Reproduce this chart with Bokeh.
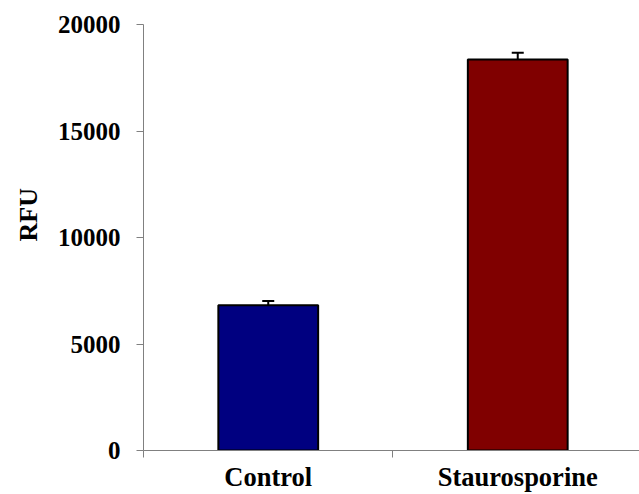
from bokeh.plotting import figure
from bokeh.models import Range1d, FixedTicker, Whisker, TeeHead, ColumnDataSource, Title
from bokeh.embed import file_html
from bokeh.resources import INLINE

categories = ["Control", "Staurosporine"]
rfu = [6820, 18360]
sem = [200, 310]
colors = ["#000080", "#800000"]
y_ticks = [0, 5000, 10000, 15000, 20000]
y_label = "RFU"

FONT = "Liberation Serif"
FS_Y = "25px"
FS_X = "26.5px"
AX = "#808080"

W, H = 639, 494
LEFT, TOP, BOTTOM = 142, 24, 42

xpos = [i + 0.5 for i in range(len(categories))]
src = ColumnDataSource(dict(
    x=xpos, top=rfu,
    upper=[r + e for r, e in zip(rfu, sem)],
    lower=rfu, color=colors))

p = figure(width=W, height=H, output_backend="svg", toolbar_location=None,
           x_range=Range1d(0, (W - LEFT) / 250), y_range=Range1d(0, 20000),
           min_border_left=LEFT, min_border_top=TOP, min_border_bottom=BOTTOM,
           min_border_right=0)
p.outline_line_color = None
p.background_fill_color = "white"
p.border_fill_color = "white"

p.vbar(x="x", top="top", bottom=0, width=0.4, fill_color="color",
       line_color="black", line_width=2, source=src)

wh = Whisker(base="x", upper="upper", lower="lower", source=src,
             line_color="black", line_width=2,
             upper_head=TeeHead(size=12, line_color="black", line_width=2),
             lower_head=None)
p.add_layout(wh)

# x axis
xa = p.xaxis[0]
xa.ticker = FixedTicker(ticks=xpos, minor_ticks=[0, 1, 2])
xa.major_label_overrides = {x: c for x, c in zip(xpos, categories)}
xa.major_tick_line_color = None
xa.major_tick_out = 0
xa.major_tick_in = 0
xa.minor_tick_in = 0
xa.minor_tick_out = 7
xa.minor_tick_line_color = AX
xa.axis_line_color = AX
xa.major_label_text_font = FONT
xa.major_label_text_font_style = "bold"
xa.major_label_text_font_size = FS_X
xa.major_label_text_color = "black"
xa.major_label_standoff = 4

# y axis
ya = p.yaxis[0]
ya.ticker = FixedTicker(ticks=y_ticks, minor_ticks=[])
ya.major_tick_out = 7
ya.major_tick_in = 0
ya.major_tick_line_color = AX
ya.axis_line_color = AX
ya.major_label_text_font = FONT
ya.major_label_text_font_style = "bold"
ya.major_label_text_font_size = FS_Y
ya.major_label_text_color = "black"
ya.major_label_standoff = 16

p.xgrid.visible = False
p.ygrid.ticker = FixedTicker(ticks=[20000])
p.ygrid.grid_line_color = AX

t = Title(text=y_label, align="left", offset=209,
          text_font=FONT, text_font_style="bold", text_font_size="26px",
          text_color="black", standoff=23)
p.add_layout(t, "left")

open("out.html", "w").write(file_html(p, INLINE))
